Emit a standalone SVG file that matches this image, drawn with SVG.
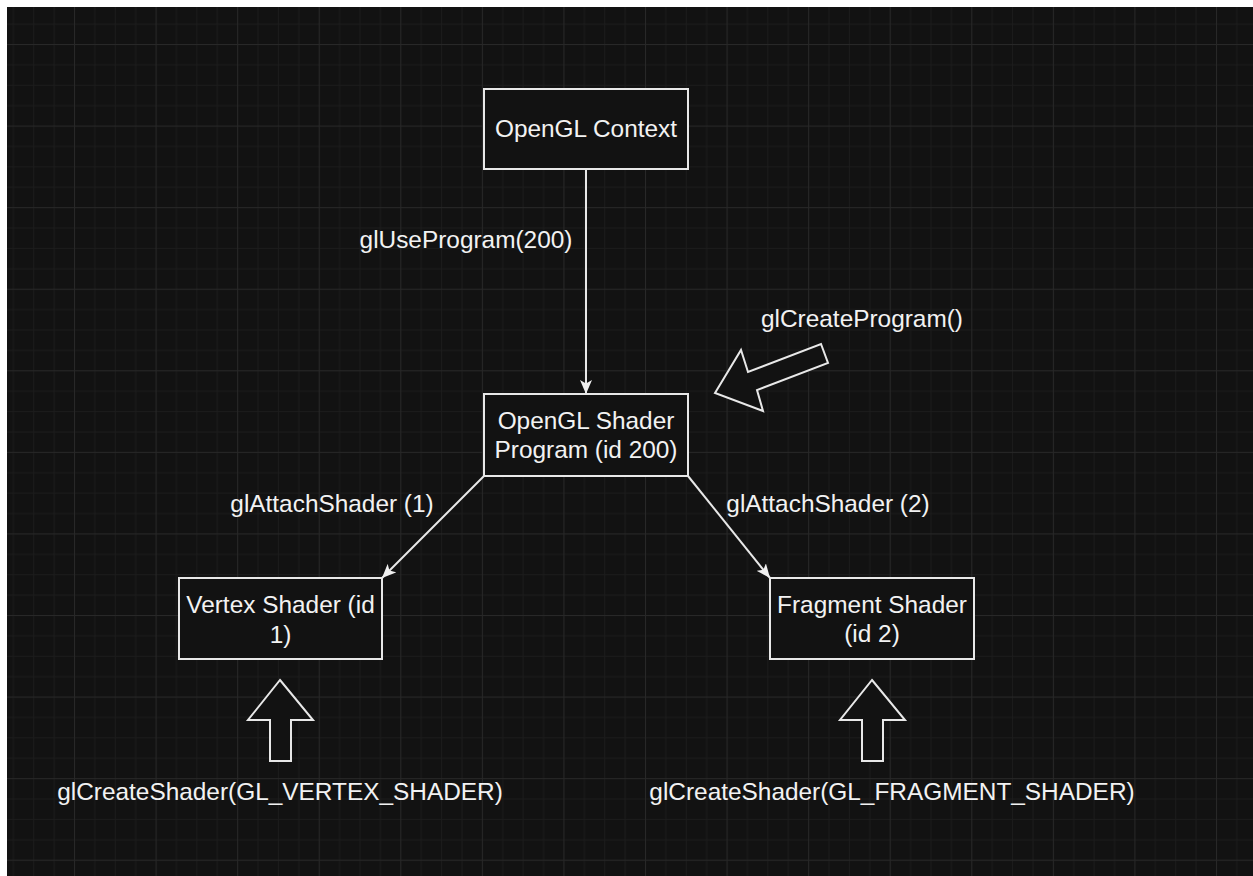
<svg xmlns="http://www.w3.org/2000/svg" width="1253" height="876" viewBox="0 0 1253 876">
  <defs>
    <style>
      .box { fill: #121212; stroke: #e8e8e8; stroke-width: 2; }
      .lbl { font-family: "Liberation Sans", Arial, sans-serif; font-size: 24.4px; fill: #f2f2f2; text-anchor: middle; }
      .edge { stroke: #e8e8e8; stroke-width: 2; fill: none; marker-end: url(#tip); }
      .block { fill: #121212; stroke: #e8e8e8; stroke-width: 2; stroke-linejoin: miter; }
    </style>
    <!-- background grid: minor lines every ~20.4px, major every 4th -->
    <pattern id="grid" patternUnits="userSpaceOnUse" x="74" y="44" width="81.57" height="81.57">
      <rect x="0" y="0" width="81.57" height="81.57" fill="#121212"/>
      <g fill="#1c1c1c">
        <rect x="20.39" y="0" width="1" height="81.57"/>
        <rect x="40.78" y="0" width="1" height="81.57"/>
        <rect x="61.18" y="0" width="1" height="81.57"/>
        <rect x="0" y="20.39" width="81.57" height="1"/>
        <rect x="0" y="40.78" width="81.57" height="1"/>
        <rect x="0" y="61.18" width="81.57" height="1"/>
      </g>
      <g fill="#282828">
        <rect x="0" y="0" width="1" height="81.57"/>
        <rect x="0" y="0" width="81.57" height="1"/>
      </g>
    </pattern>
    <marker id="tip" viewBox="0 0 14 12" refX="14" refY="6" markerWidth="14" markerHeight="12" markerUnits="userSpaceOnUse" orient="auto">
      <path d="M0,0 L14,6 L0,12 L3.5,6 Z" fill="#f0f0f0"/>
    </marker>
  </defs>

  <!-- canvas -->
  <rect x="0" y="0" width="1253" height="876" fill="#ffffff"/>
  <rect x="7" y="7" width="1246" height="869" fill="url(#grid)"/>

  <!-- connectors -->
  <g id="connectors">
    <line class="edge" x1="586" y1="169" x2="586" y2="394"/>
    <line class="edge" x1="484" y1="476" x2="382" y2="578"/>
    <line class="edge" x1="688" y1="476" x2="770" y2="578"/>
    <text class="lbl" x="466" y="248">glUseProgram(200)</text>
    <text class="lbl" x="332" y="512">glAttachShader (1)</text>
    <text class="lbl" x="828" y="512">glAttachShader (2)</text>
  </g>

  <!-- nodes -->
  <g id="context">
    <rect class="box" x="484" y="89" width="204" height="80"/>
    <text class="lbl" x="586" y="137">OpenGL Context</text>
  </g>

  <g id="program">
    <rect class="box" x="484" y="394" width="204" height="82"/>
    <text class="lbl" x="586" y="429">OpenGL Shader</text>
    <text class="lbl" x="586" y="458">Program (id 200)</text>
  </g>

  <g id="vertex-shader">
    <rect class="box" x="179" y="578" width="203" height="81"/>
    <text class="lbl" x="280.5" y="613">Vertex Shader (id</text>
    <text class="lbl" x="280.5" y="643">1)</text>
  </g>

  <g id="fragment-shader">
    <rect class="box" x="770" y="578" width="204" height="81"/>
    <text class="lbl" x="872" y="613">Fragment Shader</text>
    <text class="lbl" x="872" y="642">(id 2)</text>
  </g>

  <!-- creation calls: block arrows with their captions -->
  <g id="create-program">
    <polygon class="block" points="715,393 741,350 748,372 821,344 828,363 757,390 763,411"/>
    <text class="lbl" x="862" y="327">glCreateProgram()</text>
  </g>

  <g id="create-vertex">
    <polygon class="block" points="280,680 313,720 291,720 291,761 270,761 270,720 248,720"/>
    <text class="lbl" x="280" y="800">glCreateShader(GL_VERTEX_SHADER)</text>
  </g>

  <g id="create-fragment">
    <polygon class="block" points="872,680 905,720 883,720 883,761 862,761 862,720 840,720"/>
    <text class="lbl" x="892" y="800">glCreateShader(GL_FRAGMENT_SHADER)</text>
  </g>
</svg>
